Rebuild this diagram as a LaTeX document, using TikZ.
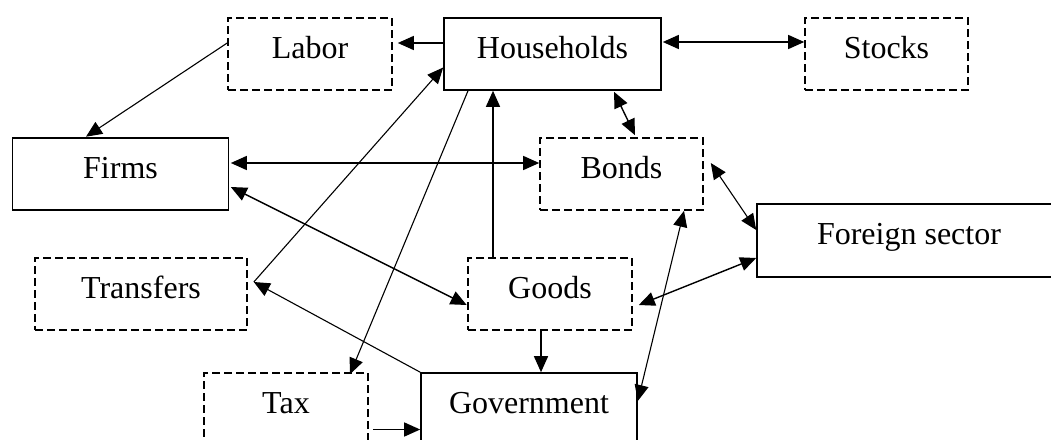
\documentclass[tikz,border=0pt]{standalone}
\usepackage{fontspec}
\setmainfont{Liberation Serif}
\usetikzlibrary{arrows.meta}
\tikzset{
  x=1pt, y=-1pt,
  box/.style={draw, line width=1.6pt, inner sep=0pt, minimum height=72pt,
    text height=22pt, text depth=14pt,
    font=\fontsize{32}{36}\selectfont},
  solidbox/.style={box},
  dashbox/.style={box, dash pattern=on 8pt off 4pt},
  tip/.tip={Triangle[length=16pt,width=14pt]},
  arr/.style={line width=1.4pt, -tip},
  darr/.style={line width=1.4pt, tip-tip},
  thinarr/.style={line width=1.1pt, -tip},
}
\begin{document}
\begin{tikzpicture}
\useasboundingbox (0,0) rectangle (1051,439);
\clip (0,0) rectangle (1051,439);
\node[dashbox, minimum width=164pt] (labor) at (310,54) {Labor};
\node[solidbox, minimum width=217pt] (hh) at (552.5,54) {Households};
\node[dashbox, minimum width=163pt] (stocks) at (886.5,54) {Stocks};
\node[solidbox, minimum width=216pt] (firms) at (120.5,174) {Firms};
\node[dashbox, minimum width=163pt] (bonds) at (621.5,174) {Bonds};
\node[solidbox, minimum width=304pt, minimum height=73pt] (foreign) at (909,240.5) {Foreign sector};
\node[dashbox, minimum width=212pt] (transfers) at (141,294) {Transfers};
\node[dashbox, minimum width=164pt] (goods) at (550,294) {Goods};
\node[dashbox, minimum width=164pt] (tax) at (286,409) {Tax};
\node[solidbox, minimum width=216pt] (gov) at (529,409) {Government};

\draw[arr] ([yshift=11pt]hh.west) -- ([xshift=5pt,yshift=11pt]labor.east);
\draw[thinarr] ([yshift=11pt]labor.west) -- ([xshift=-34.5pt,yshift=0.5pt]firms.north);
\draw[darr] ([xshift=1pt,yshift=12pt]hh.east) -- ([yshift=12pt]stocks.west);
\draw[darr] ([xshift=61.5pt,yshift=-1pt]hh.south) -- ([xshift=13.5pt,yshift=2pt]bonds.north);
\draw[darr] ([xshift=1.5pt,yshift=11pt]firms.east) -- ([yshift=11pt]bonds.west);
\draw[arr] ([xshift=-57pt]goods.north) -- ([xshift=-57pt]goods.north |- hh.south);
\draw[thinarr] ([xshift=6pt,yshift=12pt]transfers.east) -- ([yshift=-13.5pt]hh.west);
\draw[thinarr] (gov.north west) -- ([xshift=6pt,yshift=12pt]transfers.east);
\draw[thinarr] ([xshift=-84.5pt]hh.south) -- ([xshift=64pt,yshift=-2pt]tax.north);
\draw[darr] ([xshift=1.5pt,yshift=-13pt]firms.east) -- ([xshift=-0.5pt,yshift=-11pt]goods.west);
\draw[arr] ([xshift=-9pt]goods.south) -- ([xshift=-9pt]goods.south |- gov.north);
\draw[arr] ([xshift=4pt,yshift=-20.5pt]tax.east) -- ([yshift=-20.5pt]gov.west);
\draw[darr] ([xshift=6pt,yshift=-11pt]goods.east) -- ([yshift=-17.5pt]foreign.west);
\draw[thinarr, tip-tip] ([xshift=7pt,yshift=11pt]bonds.east) -- ([yshift=10.5pt]foreign.west);
\draw[thinarr, tip-tip] ([xshift=62.5pt]bonds.south) -- ([yshift=8pt]gov.east);
\end{tikzpicture}
\end{document}
